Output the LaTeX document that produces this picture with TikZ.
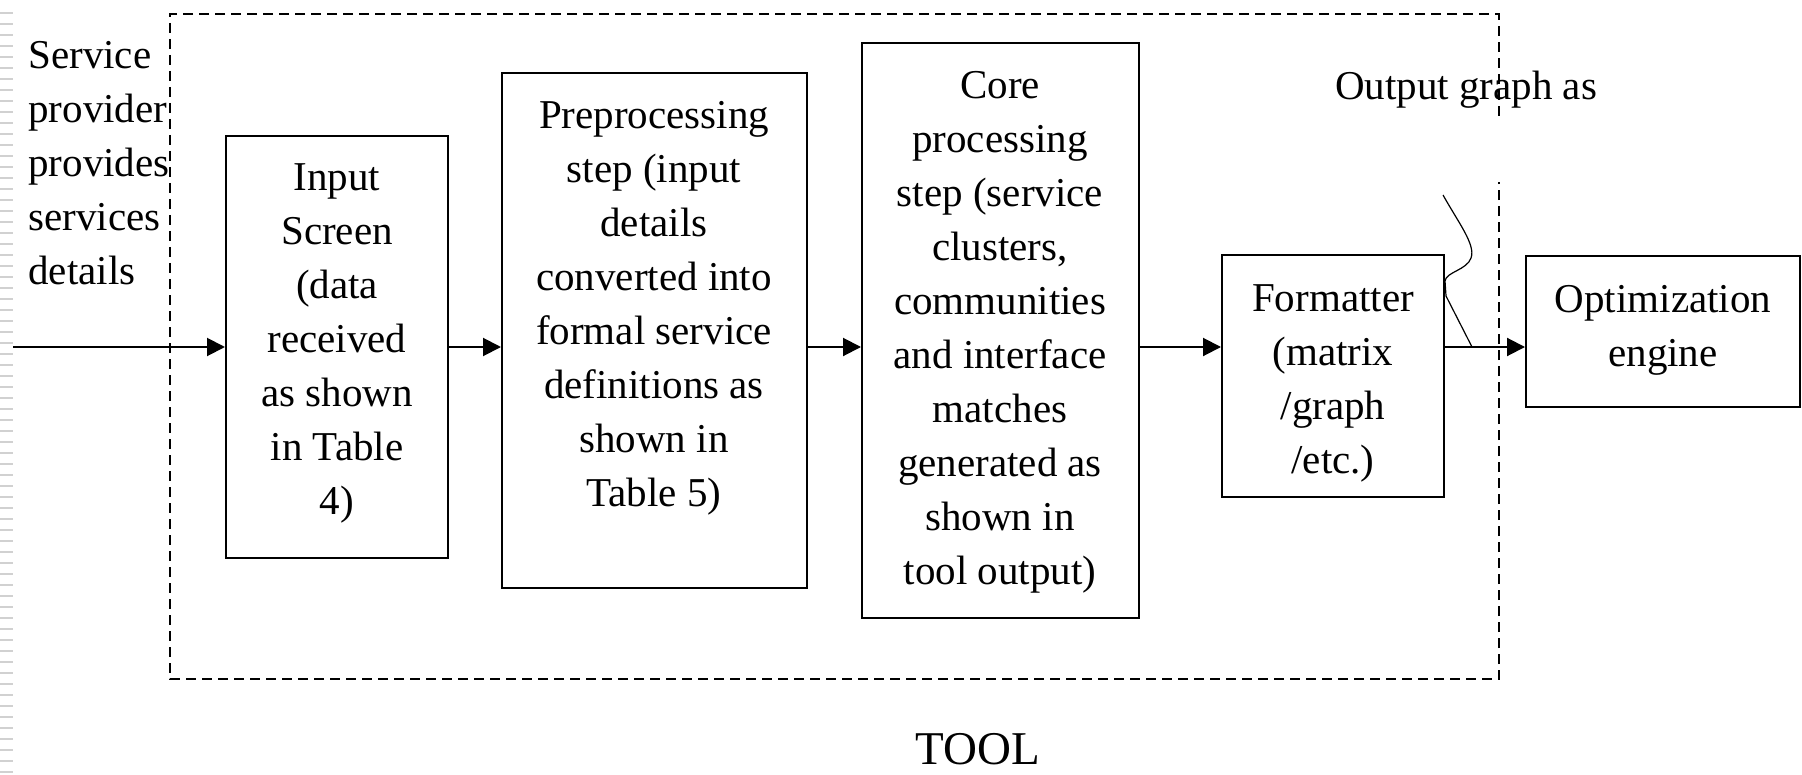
\documentclass[tikz,border=0pt]{standalone}
\usepackage{fontspec}
\setmainfont{Liberation Serif}
\usetikzlibrary{arrows.meta}
\begin{document}
\begin{tikzpicture}[x=0.5pt,y=-0.5pt,
  box/.style={draw, line width=1pt, inner sep=0pt, rectangle},
  txt/.style={align=center, font=\fontsize{20.5}{27}\selectfont, inner sep=0pt},
  flow/.style={line width=1pt, -{Triangle[length=9pt,width=9pt]}},
  toolframe/.style={line width=0.75pt, dash pattern=on 5pt off 3pt},
  ruler/.style={line width=1pt, draw=black!18},
  squiggle/.style={line width=0.6pt}]
\useasboundingbox (0,0) rectangle (1802,775);
% faint ruled margin
\foreach \i in {0,...,69} {\draw[ruler] (0,{13+11*\i}) -- (13,{13+11*\i});}
% tool frame
\draw[toolframe] (1499,116) -- (1499,14) -- (170,14) -- (170,679) -- (1499,679) -- (1499,182);
% boxes
\node[box, minimum width=111pt, minimum height=211pt] (in) at (337,347) {};
\node[box, minimum width=152.5pt, minimum height=257.5pt] (pre) at (654.5,330.5) {};
\node[box, minimum width=138.5pt, minimum height=287.5pt] (core) at (1000.5,330.5) {};
\node[box, minimum width=111pt, minimum height=121pt] (fmt) at (1333,376) {};
\node[box, minimum width=137pt, minimum height=75.5pt] (opt) at (1663,331.5) {};
% texts
\node[txt, align=left, anchor=west] (svc) at (28,166) {\strut Service\\provider\\provides\\services\\details\strut};
\node[txt] (intx) at (337,342) {\strut Input\\Screen\\(data\\received\\as shown\\in Table\\4)\strut};
\node[txt] (pretx) at (654,307) {\strut Preprocessing\\step (input\\details\\converted into\\formal service\\definitions as\\shown in\\Table 5)\strut};
\node[txt] (coretx) at (1000,331) {\strut Core\\processing\\step (service\\clusters,\\communities\\and interface\\matches\\generated as\\shown in\\tool output)\strut};
\node[txt] (fmttx) at (1333,382) {\strut Formatter\\(matrix\\/graph\\/etc.)\strut};
\node[txt] (opttx) at (1663,329) {\strut Optimization\\engine\strut};
\node[txt] (outlbl) at (1466,89) {\strut Output graph as\strut};
\node[inner sep=0pt, anchor=base, font=\fontsize{23.5}{28}\selectfont] (toollbl) at (978,764) {TOOL};
% connectors
\coordinate (ay) at (0,347);
\coordinate (src) at (13,347);
\draw[flow] (src) -- (in.west |- ay);
\draw[flow] (in.east |- ay) -- (pre.west |- ay);
\draw[flow] (pre.east |- ay) -- (core.west |- ay);
\draw[flow] (core.east |- ay) -- (fmt.west |- ay);
\draw[flow] (fmt.east |- ay) -- (opt.west |- ay);
% squiggle pointing at the output arrow
\draw[squiggle] (1443,195) .. controls (1458,222) and (1476,245) .. (1471,258)
  .. controls (1467,270) and (1446,272) .. (1445,281) -- (1446,296) -- (1472,347);
\end{tikzpicture}
\end{document}
